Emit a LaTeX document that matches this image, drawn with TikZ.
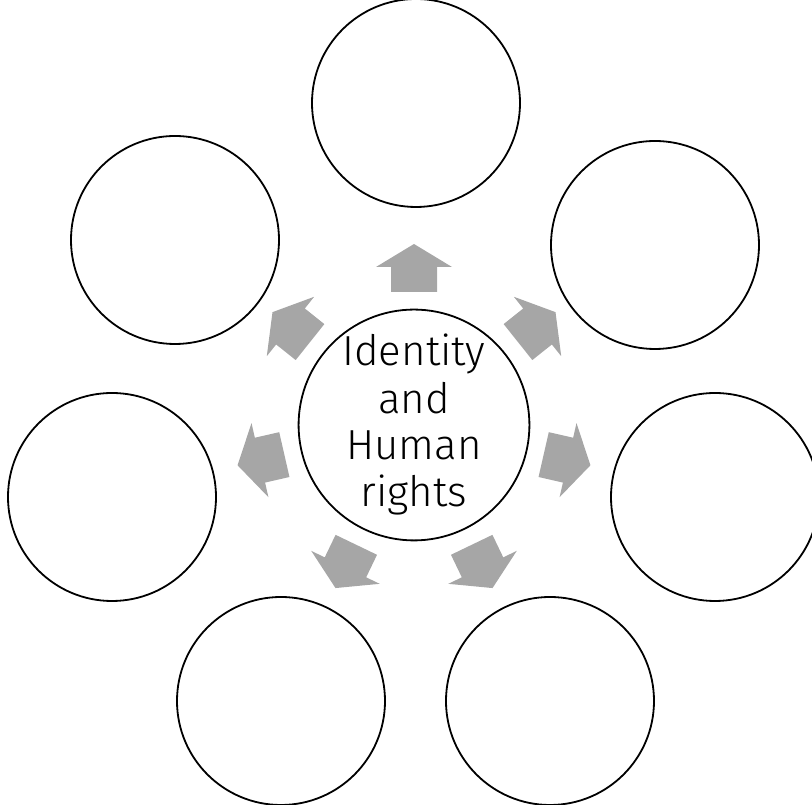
\documentclass[tikz,border=0pt]{standalone}
\usepackage{fontspec}
\setmainfont{Fira Sans Light}
\definecolor{ArrowGrey}{HTML}{A6A6A6}

% block arrow pointing up, drawn round its own centre
\tikzset{
  blockarrow/.pic={
    \fill[ArrowGrey] (-23,-24) -- (23,-24) -- (23,1) -- (38,1)
      -- (0,24) -- (-38,1) -- (-23,1) -- cycle;
  }
}

\begin{document}
\begin{tikzpicture}[x=1pt, y=1pt,
    line width=1.8pt,
    bubble/.style={shape=circle, draw, inner sep=0pt, minimum size=208pt}]
    \path [use as bounding box] (0,0) rectangle (812,805);

    \node[name=hub,
      shape=circle,
      draw,
      inner sep=0pt,
      minimum size=228pt,
      align=center,
      font=\fontsize{42}{47}\selectfont] at (414,380) {Identity\\and\\Human\\rights};

    \node[name=top, bubble] at ([shift={(2,322)}]hub) {};
    \node[name=topright, bubble] at ([shift={(241,180)}]hub) {};
    \node[name=right, bubble] at ([shift={(301,-72)}]hub) {};
    \node[name=botright, bubble] at ([shift={(136,-276)}]hub) {};
    \node[name=botleft, bubble] at ([shift={(-133,-276)}]hub) {};
    \node[name=left, bubble] at ([shift={(-302,-72)}]hub) {};
    \node[name=topleft, bubble] at ([shift={(-239,185)}]hub) {};

    \pic[rotate=0] at ([shift={(90:157)}]hub) {blockarrow};
    \pic[rotate=-51.43] at ([shift={(38.57:157)}]hub) {blockarrow};
    \pic[rotate=-102.86] at ([shift={(-12.86:157)}]hub) {blockarrow};
    \pic[rotate=-154.29] at ([shift={(-64.29:157)}]hub) {blockarrow};
    \pic[rotate=154.29] at ([shift={(-115.71:157)}]hub) {blockarrow};
    \pic[rotate=102.86] at ([shift={(-167.14:157)}]hub) {blockarrow};
    \pic[rotate=51.43] at ([shift={(141.43:157)}]hub) {blockarrow};
  \end{tikzpicture}
\end{document}
